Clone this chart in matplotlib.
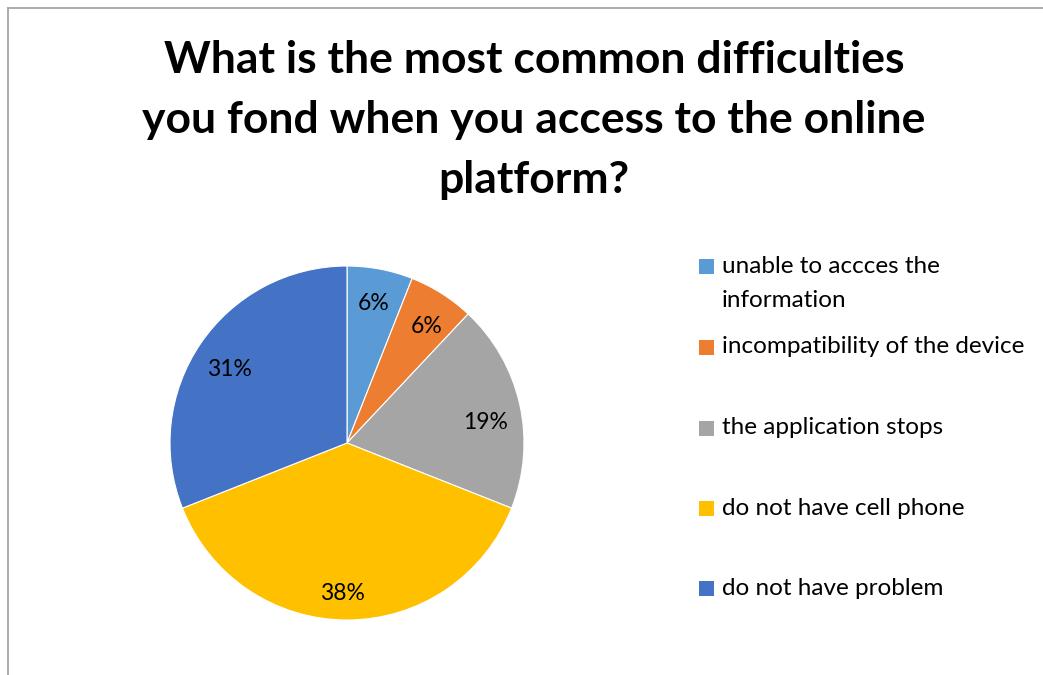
import matplotlib
matplotlib.use("Agg")
import matplotlib.pyplot as plt
from matplotlib.patches import Rectangle
from matplotlib.lines import Line2D
from matplotlib.transforms import offset_copy

# Survey answers and their shares (percent)
categories = [
    "unable to accces the\ninformation",
    "incompatibility of the device",
    "the application stops",
    "do not have cell phone",
    "do not have problem",
]
percentages = [6, 6, 19, 38, 31]
colors = ["#5B9BD5", "#ED7D31", "#A5A5A5", "#FFC000", "#4472C4"]
title_lines = [
    "What is the most common difficulties",
    "you fond when you access to the online",
    "platform?",
]

W, H = 1043, 675
fig = plt.figure(figsize=(W / 100, H / 100), dpi=100)
fig.patch.set_facecolor("white")

def fx(px):
    return px / W

def fy(py):
    return 1 - py / H

# chart frame (top and left edges visible)
frame_kw = dict(color="#A6A6A6", linewidth=1.3, transform=fig.transFigure)
fig.add_artist(Line2D([fx(8), 1.0], [fy(8), fy(8)], **frame_kw))
fig.add_artist(Line2D([fx(8), fx(8)], [fy(8), 0.0], **frame_kw))

# title
title_font = dict(family=["Lato", "DejaVu Sans"], fontweight="bold",
                  fontsize=32, color="black", ha="center", va="baseline")
for line, base in zip(title_lines, [73, 133, 193]):
    fig.text(fx(534), fy(base), line, **title_font)

# pie
cx, cy, r = 347, 443, 177
ax = fig.add_axes([fx(cx - r), fy(cy + r), 2 * r / W, 2 * r / H])
wedges, _, autotexts = ax.pie(
    percentages,
    colors=colors,
    startangle=90,
    counterclock=False,
    autopct=lambda p: f"{p:.0f}%",
    pctdistance=0.81,
    wedgeprops=dict(edgecolor="white", linewidth=0.8),
    textprops=dict(family=["Lato", "DejaVu Sans"], fontsize=16.5, color="black"),
)
ax.set_xlim(-1, 1)
ax.set_ylim(-1, 1)
ax.set_aspect("equal")
ax.axis("off")

# small placement nudges for the percentage labels (pixels, x right / y down)
label_nudges = [(0, 1), (3, 5), (-1, 11), (-5, 7), (1, 7)]
for t, (dx, dy) in zip(autotexts, label_nudges):
    t.set_transform(offset_copy(ax.transData, fig=fig, x=dx, y=-dy, units="dots"))

# legend
square = 15
sq_x = 699
text_x = 722
square_centers = [266.5, 347.5, 428, 508.5, 588.5]
baselines = [273, 353, 434, 515, 595]
leg_font = dict(family=["Lato", "DejaVu Sans"], fontsize=17.5, color="black",
                ha="left", va="baseline")
for label, color, sc, base in zip(categories, colors, square_centers, baselines):
    fig.add_artist(Rectangle((fx(sq_x), fy(sc + square / 2)), square / W, square / H,
                             facecolor=color, edgecolor="none",
                             transform=fig.transFigure))
    for k, part in enumerate(label.split("\n")):
        fig.text(fx(text_x), fy(base + 34 * k), part, **leg_font)

fig.savefig("out.png", dpi=100, facecolor="white")
